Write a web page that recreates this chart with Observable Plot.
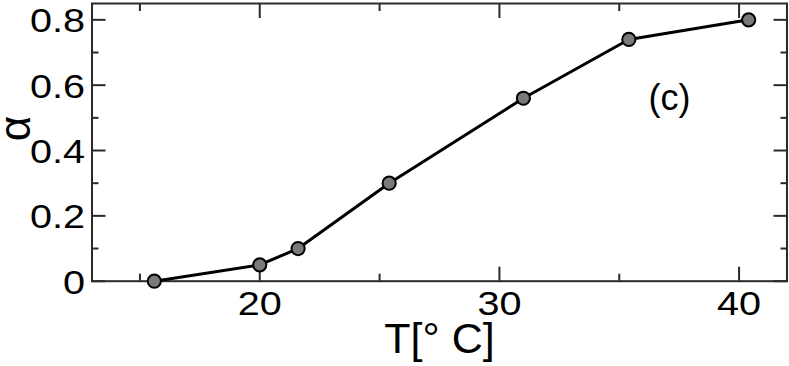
<!DOCTYPE html>
<html>
<head>
<meta charset="utf-8">
<script src="https://cdn.jsdelivr.net/npm/d3@7"></script>
<script src="https://cdn.jsdelivr.net/npm/@observablehq/plot@0.6"></script>
<style>
  html, body { margin: 0; padding: 0; background: #fff; }
  #chart svg { display: block; }
</style>
</head>
<body>
<div id="chart"></div>
<script>
// Data
const temperature = [15.6, 20.0, 21.6, 25.4, 31.0, 35.4, 40.4];
const alphaValues = [0.0, 0.05, 0.10, 0.30, 0.56, 0.74, 0.80];

const xMajorTicks = [20, 30, 40];
const xMinorTicks = [15, 25, 35];
const xTickLabels = ["20", "30", "40"];
const yMajorTicks = [0, 0.2, 0.4, 0.6, 0.8];
const yMinorTicks = [0.1, 0.3, 0.5, 0.7];
const yTickLabels = ["0", "0.2", "0.4", "0.6", "0.8"];

const xLabel = "T[° C]";
const yLabel = "α";
const panelLabel = "(c)";
const panelLabelPos = {T: 37.1, alpha: 0.56};

const points = temperature.map((t, i) => ({T: t, alpha: alphaValues[i]}));
const xLabelRows = xMajorTicks.map((v, i) => ({v, label: xTickLabels[i]}));
const yLabelRows = yMajorTicks.map((v, i) => ({v, label: yTickLabels[i]}));

const axisColor = "#2a2a2a";
const font = "'Liberation Sans', Arial, Helvetica, sans-serif";

const tickAxes = [];
for (const anchor of ["bottom", "top"]) {
  tickAxes.push(Plot.axisX(xMajorTicks, {anchor, tickSize: -14, fill: "none", stroke: axisColor, strokeWidth: 2, label: null}));
  tickAxes.push(Plot.axisX(xMinorTicks, {anchor, tickSize: -7, fill: "none", stroke: axisColor, strokeWidth: 2, label: null}));
}
for (const anchor of ["left", "right"]) {
  tickAxes.push(Plot.axisY(yMajorTicks, {anchor, tickSize: -14, fill: "none", stroke: axisColor, strokeWidth: 2, label: null}));
  tickAxes.push(Plot.axisY(yMinorTicks, {anchor, tickSize: -7, fill: "none", stroke: axisColor, strokeWidth: 2, label: null}));
}

const chart = Plot.plot({
  width: 789,
  height: 366,
  marginLeft: 91.5,
  marginRight: 2.5,
  marginTop: 3,
  marginBottom: 85.3,
  style: {fontFamily: font, background: "#fff", color: "#000"},
  x: {domain: [13, 42], label: null, axis: null},
  y: {domain: [0, 0.85], label: null, axis: null},
  marks: [
    ...tickAxes,
    Plot.text(xLabelRows, {x: "v", text: "label", frameAnchor: "bottom", lineAnchor: "top", textAnchor: "middle", dy: 10, fontSize: 33, fill: "#000"}),
    Plot.text(yLabelRows, {y: "v", text: "label", frameAnchor: "left", lineAnchor: "middle", textAnchor: "end", dx: -7, dy: 2, fontSize: 33, fill: "#000"}),
    Plot.frame({stroke: axisColor, strokeWidth: 2}),
    Plot.line(points, {x: "T", y: "alpha", stroke: "#000", strokeWidth: 3}),
    Plot.dot(points, {x: "T", y: "alpha", r: 6.6, fill: "#7a7a7a", stroke: "#000", strokeWidth: 2}),
    Plot.text([panelLabel], {x: () => panelLabelPos.T, y: () => panelLabelPos.alpha, fontSize: 36, fill: "#000", textAnchor: "middle", lineAnchor: "middle"}),
    Plot.text([xLabel], {frameAnchor: "bottom", dy: 58, fontSize: 43, fill: "#000", lineAnchor: "middle"}),
    Plot.text([yLabel], {frameAnchor: "left", dx: -76, dy: -1, rotate: -90, fontSize: 44, fill: "#000", lineAnchor: "middle"})
  ]
});

// Widen tick labels horizontally to match the reference's stretched glyphs
const textGroups = chart.querySelectorAll('g[aria-label="text"]');
[textGroups[0], textGroups[1]].forEach((g) => {
  if (!g) return;
  g.querySelectorAll("text").forEach((el) => {
    const t = el.getAttribute("transform");
    if (t) {
      el.setAttribute("transform", t + " scale(1.2,1)");
    } else {
      const x = +el.getAttribute("x") || 0, y = +el.getAttribute("y") || 0;
      el.setAttribute("transform", `translate(${x},${y}) scale(1.2,1) translate(${-x},${-y})`);
    }
  });
});

document.getElementById("chart").appendChild(chart);
</script>
</body>
</html>
